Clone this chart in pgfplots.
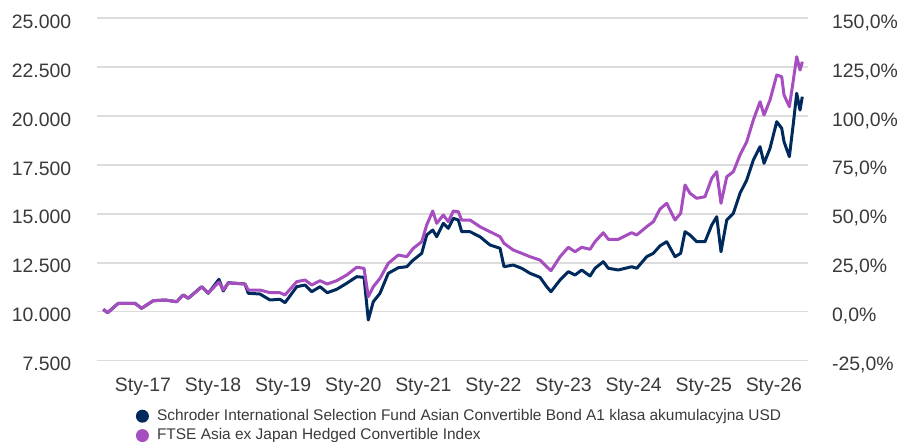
\documentclass[border=0pt]{standalone}
\usepackage{pgfplots}
\usepackage{pgfplotstable}
\pgfplotsset{compat=1.18}
\usepackage{fontspec}
\setmainfont{Liberation Sans}
\definecolor{navy}{HTML}{002A5C}
\definecolor{purp}{HTML}{A64DC0}
\definecolor{gridc}{HTML}{DCDCDC}
\definecolor{txt}{HTML}{3A3A3A}

\pgfplotstableread{
year fund index
2016.434 10123 10123
2016.496 9949 9949
2016.648 10429 10429
2016.886 10429 10429
2016.981 10174 10174
2017.147 10562 10562
2017.314 10598 10598
2017.481 10511 10511
2017.575 10854 10854
2017.646 10685 10685
2017.837 11278 11263
2017.932 10941 10956
2018.084 11656 11518
2018.145 11058 11109
2018.217 11482 11467
2018.455 11416 11416
2018.502 10941 11109
2018.669 10905 11109
2018.812 10598 10971
2018.954 10634 10971
2019.026 10460 10854
2019.193 11278 11534
2019.311 11365 11621
2019.407 11022 11365
2019.525 11278 11585
2019.629 10971 11416
2019.763 11145 11585
2019.906 11452 11876
2020.048 11789 12270
2020.153 11759 12219
2020.214 9576 10767
2020.285 10511 11278
2020.381 10941 11707
2020.499 11963 12474
2020.642 12249 12898
2020.762 12300 12812
2020.856 12643 13241
2020.976 12985 13578
2021.047 13921 14432
2021.133 14177 15148
2021.190 13834 14519
2021.284 14519 14943
2021.355 14263 14601
2021.427 14775 15148
2021.498 14688 15112
2021.546 14090 14688
2021.665 14090 14688
2021.807 13834 14345
2021.950 13410 14090
2022.093 13241 13834
2022.150 12300 13497
2022.282 12387 13154
2022.402 12219 12985
2022.521 11963 12812
2022.663 11759 12643
2022.759 11278 12300
2022.820 11022 12096
2022.949 11621 12812
2023.067 12045 13292
2023.163 11876 13067
2023.258 12132 13292
2023.377 11825 13190
2023.448 12219 13578
2023.566 12556 14038
2023.638 12219 13701
2023.780 12132 13701
2023.971 12300 14038
2024.043 12219 13921
2024.185 12812 14345
2024.280 12985 14601
2024.375 13369 15250
2024.471 13578 15541
2024.589 12812 14688
2024.670 12985 15030
2024.732 14090 16477
2024.803 13921 16053
2024.899 13578 15797
2025.017 13578 15879
2025.113 14432 16819
2025.184 14856 17157
2025.245 13067 15541
2025.327 14688 16901
2025.421 15030 17157
2025.516 16053 18011
2025.612 16732 18690
2025.706 17755 19800
2025.802 18435 20735
2025.859 17586 20055
2025.944 18353 20822
2026.040 19713 22100
2026.111 19375 22013
2026.144 18690 21078
2026.220 17924 20480
2026.277 19631 21845
2026.325 21165 23036
2026.372 20311 22356
2026.405 20991 22780
}\datatable

\begin{document}
\begin{tikzpicture}
\path[use as bounding box] (0,0) rectangle (449bp,221bp);
\begin{axis}[
  at={(48.35bp,40.7bp)}, anchor=south west,
  width=355.65bp, height=171.15bp, scale only axis,
  xmin=2016.340, xmax=2026.486,
  ymin=-25, ymax=150,
  ytick={-25,0,...,150},
  scaled y ticks=false,
  axis x line=none,
  axis y line*=right,
  y axis line style={draw=none},
  major tick length=0,
  /pgf/number format/assume math mode=true,
  yticklabel={\pgfmathprintnumber[fixed,fixed zerofill,precision=1,use comma]{\tick}\%},
  yticklabel style={anchor=base west, inner sep=0pt, xshift=11.85bp, yshift=-5bp,
    font=\fontsize{9.75}{11}\selectfont, text=txt},
]
\end{axis}
\begin{axis}[
  at={(48.35bp,40.7bp)}, anchor=south west,
  width=355.65bp, height=171.15bp, scale only axis,
  xmin=2016.340, xmax=2026.486,
  ymin=7500, ymax=25000,
  ytick={7500,10000,...,25000},
  scaled y ticks=false,
  xtick={2017,...,2026},
  xticklabels={Sty-17,Sty-18,Sty-19,Sty-20,Sty-21,Sty-22,Sty-23,Sty-24,Sty-25,Sty-26},
  ymajorgrids,
  grid style={gridc, line width=0.8bp},
  axis line style={draw=none},
  major tick length=0,
  /pgf/number format/assume math mode=true,
  yticklabel={\pgfmathprintnumber[fixed,precision=0,1000 sep={.}]{\tick}},
  yticklabel style={anchor=base east, inner sep=0pt, xshift=-12.5bp, yshift=-5bp,
    font=\fontsize{9.75}{11}\selectfont, text=txt},
  xticklabel style={anchor=north, inner sep=0pt, yshift=-8.7bp,
    font=\fontsize{9.75}{11}\selectfont, text=txt},
  legend style={at={(0.0546,-0.133)}, anchor=north west, draw=none, fill=none,
    inner sep=0pt, font=\fontsize{7.75}{9}\selectfont, text=txt,
    nodes={inner sep=1.3bp}, legend cell align=left},
  legend image code/.code={\fill[draw=none] (0,0) circle (3.25bp); \path[draw=none,fill=none] (-3.25bp,0) -- (6bp,0);},
]
\addplot[navy, line width=1.5bp, line join=round] table[x=year, y=fund] {\datatable};
\addlegendentry{Schroder International Selection Fund Asian Convertible Bond A1 klasa akumulacyjna USD}
\addplot[purp, line width=1.5bp, line join=round] table[x=year, y=index] {\datatable};
\addlegendentry{FTSE Asia ex Japan Hedged Convertible Index}
\end{axis}
\end{tikzpicture}
\end{document}
